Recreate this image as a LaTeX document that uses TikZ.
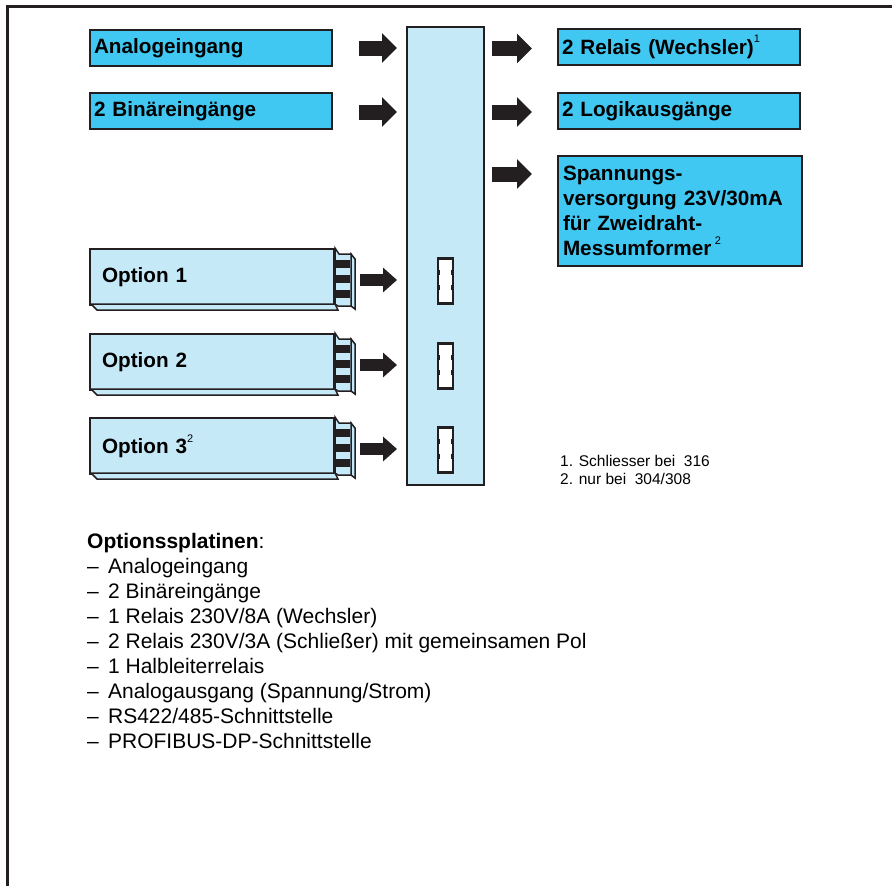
\documentclass[tikz,border=0pt]{standalone}
\usepackage{fontspec}
\setmainfont{Liberation Sans}
\usetikzlibrary{positioning, arrows.meta, calc}

\definecolor{ink}{RGB}{35,31,32}
\definecolor{boxcyan}{RGB}{64,199,242}
\definecolor{boardblue}{RGB}{198,233,248}

\newcommand{\fnmark}[1]{\raisebox{0.55em}{\mdseries\fontsize{11}{11}\selectfont #1}}
\newcommand{\li}{–\hspace{0.44em}}

\tikzset{
  iobox/.style={draw=ink, fill=boxcyan, line width=2pt, text width=234pt, inner xsep=4pt, inner ysep=0pt,
    minimum height=36pt, align=left, anchor=north west, font=\bfseries\fontsize{20.7}{25}\selectfont},
  optbox/.style={draw=ink, fill=boardblue, line width=2pt, text width=220pt, inner xsep=12pt, inner ysep=0pt,
    minimum height=56pt, align=left, anchor=north west, font=\bfseries\fontsize{20.7}{25}\selectfont},
  slotbox/.style={draw=ink, fill=white, line width=2.6pt, minimum width=15pt, minimum height=45pt, inner sep=0pt},
  bigarrow/.style={draw=ink, line width=15pt, -{Triangle[length=15pt,width=29pt]}},
  smallarrow/.style={draw=ink, line width=12pt, -{Triangle[length=14pt,width=24pt]}},
  notetext/.style={inner sep=0pt, anchor=north west, align=left},
}

% board edge with connector
\newcommand{\optcard}[1]{%
  \begin{scope}[shift={(#1.north east)}, draw=ink, line width=1.5pt]
    \filldraw[fill=boardblue] (-244,56) -- (-238,62) -- (3,62) -- (0,56) -- cycle;
    \filldraw[fill=boardblue] (16,6) -- (20,11) -- (20,61) -- (16,58) -- cycle;
    \filldraw[fill=boardblue] (0,0) -- (4,6) -- (16,6) -- (16,58) -- (3,58) -- (0,56) -- cycle;
    \fill[ink] (0,12) rectangle (15,20);
    \fill[ink] (0,27) rectangle (15,35);
    \fill[ink] (0,42) rectangle (15,50);
  \end{scope}}

\begin{document}
\begin{tikzpicture}[x=1pt, y=-1pt]
    \useasboundingbox (0,0) rectangle (892,886);
    \draw[ink, line width=3pt] (7,886) -- (7,6) -- (892,6);

    % base unit
    \node[draw=ink, fill=boardblue, line width=2pt, minimum width=77pt, minimum height=458pt] (cpu) at (445.5,256) {};

    % inputs and outputs
    \node[iobox] (ana) at (89,29) {Analogeingang};
    \node[iobox] (bin) at (89,92) {2 Binäreingänge};
    \node[iobox] (rel) at (557,28) {2 Relais (Wechsler)\fnmark{1}};
    \node[iobox] (log) at (557,92) {2 Logikausgänge};
    \node[iobox, minimum height=110pt, inner xsep=5pt] (spg) at (557,155)
        {Spannungs-\\versorgung 23V/30mA\\für Zweidraht-\\Messumformer\,\fnmark{2}};

    \draw[bigarrow] ($(ana.east)+(26,0)$) -- ($(ana.east -| cpu.west)+(-9,0)$);
    \draw[bigarrow] ($(bin.east)+(26,1)$) -- ($(bin.east -| cpu.west)+(-9,1)$);
    \draw[bigarrow] ($(cpu.east |- rel.west)+(7,1.5)$) -- ($(rel.west)+(-25,1.5)$);
    \draw[bigarrow] ($(cpu.east |- log.west)+(7,1)$) -- ($(log.west)+(-25,1)$);
    \draw[bigarrow] ($(cpu.east |- spg.north)+(7,19)$) -- ($(spg.north west)+(-25,19)$);

    % option boards
    \node[optbox] (opt1) at (89,248) {Option 1};
    \node[optbox] (opt2) at (89,333) {Option 2};
    \node[optbox] (opt3) at (89,417) {Option 3\fnmark{2}};
    \optcard{opt1}
    \optcard{opt2}
    \optcard{opt3}

    \node[slotbox] (slot1) at ($(opt1.east -| cpu.center)+(0,4)$) {};
    \node[slotbox] (slot2) at ($(opt2.east -| cpu.center)+(0,4)$) {};
    \node[slotbox] (slot3) at ($(opt3.east -| cpu.center)+(0,4)$) {};
    \foreach \s in {slot1,slot2,slot3}
      \foreach \d in {13,28} {
        \fill[ink] ($(\s.north west)+(0,\d)$) rectangle +(3.5,5);
        \fill[ink] ($(\s.north east)+(0,\d)$) rectangle +(-3.5,5);
      }

    \draw[smallarrow] ($(opt1.east)+(25,3)$) -- ($(opt1.east -| cpu.west)+(-9,3)$);
    \draw[smallarrow] ($(opt2.east)+(25,3)$) -- ($(opt2.east -| cpu.west)+(-9,3)$);
    \draw[smallarrow] ($(opt3.east)+(25,3)$) -- ($(opt3.east -| cpu.west)+(-9,3)$);

    % notes
    \node[notetext, font=\fontsize{15.5}{18}\selectfont] (notes) at (560,455)
        {1. Schliesser bei\ \ 316\\2. nur bei\ \ 304/308};
    \node[notetext, font=\fontsize{21}{25}\selectfont] (list) at (87,533)
        {\textbf{Optionssplatinen}:\\
         \li Analogeingang\\
         \li 2 Binäreingänge\\
         \li 1 Relais 230V/8A (Wechsler)\\
         \li 2 Relais 230V/3A (Schließer) mit gemeinsamen Pol\\
         \li 1 Halbleiterrelais\\
         \li Analogausgang (Spannung/Strom)\\
         \li RS422/485-Schnittstelle\\
         \li PROFIBUS-DP-Schnittstelle};
\end{tikzpicture}
\end{document}
